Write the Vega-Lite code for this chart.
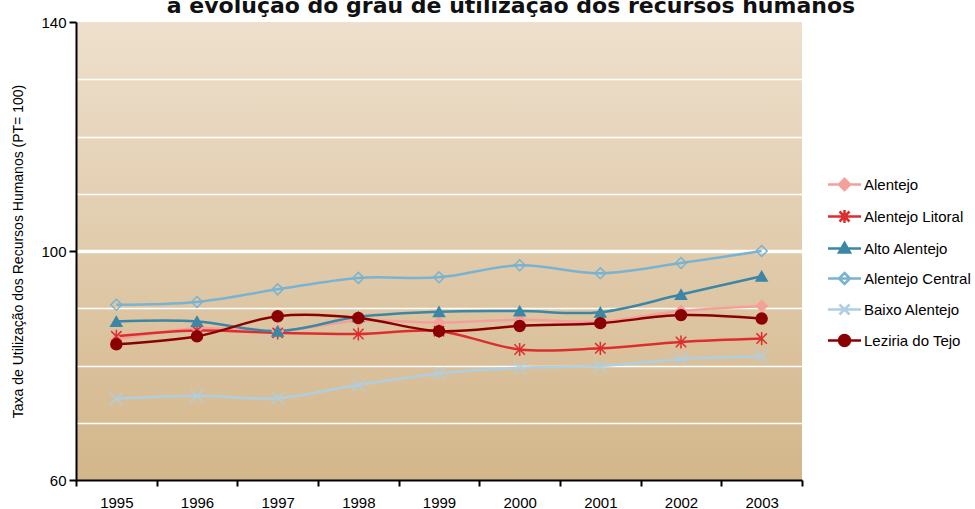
{
  "$schema": "https://vega.github.io/schema/vega-lite/v6.json",
  "width": 726,
  "height": 458,
  "autosize": {"type": "none"},
  "padding": {"left": 76, "top": 22, "right": 173, "bottom": 29},
  "background": "white",
  "view": {
    "fill": {"gradient": "linear", "x1": 0, "y1": 0, "x2": 0, "y2": 1,
      "stops": [{"offset": 0, "color": "#EEE0CD"}, {"offset": 1, "color": "#D3B68A"}]},
    "stroke": null
  },
  "title": {
    "text": "a evolução do grau de utilização dos recursos humanos",
    "font": "DejaVu Sans", "fontSize": 22, "fontWeight": "bold", "color": "#111111",
    "anchor": "middle", "frame": "group", "dx": 72, "dy": 22, "baseline": "alphabetic", "offset": 2
  },
  "data": {"values": [
    {"year": "1995", "region": "Alentejo", "value": 84.5},
    {"year": "1996", "region": "Alentejo", "value": 86.5},
    {"year": "1997", "region": "Alentejo", "value": 86.0},
    {"year": "1998", "region": "Alentejo", "value": 87.8},
    {"year": "1999", "region": "Alentejo", "value": 87.5},
    {"year": "2000", "region": "Alentejo", "value": 88.0},
    {"year": "2001", "region": "Alentejo", "value": 87.7},
    {"year": "2002", "region": "Alentejo", "value": 89.5},
    {"year": "2003", "region": "Alentejo", "value": 90.4},
    {"year": "1995", "region": "Alentejo Litoral", "value": 85.1},
    {"year": "1996", "region": "Alentejo Litoral", "value": 86.1},
    {"year": "1997", "region": "Alentejo Litoral", "value": 85.7},
    {"year": "1998", "region": "Alentejo Litoral", "value": 85.5},
    {"year": "1999", "region": "Alentejo Litoral", "value": 86.0},
    {"year": "2000", "region": "Alentejo Litoral", "value": 82.8},
    {"year": "2001", "region": "Alentejo Litoral", "value": 83.0},
    {"year": "2002", "region": "Alentejo Litoral", "value": 84.1},
    {"year": "2003", "region": "Alentejo Litoral", "value": 84.7},
    {"year": "1995", "region": "Alto Alentejo", "value": 87.7},
    {"year": "1996", "region": "Alto Alentejo", "value": 87.7},
    {"year": "1997", "region": "Alto Alentejo", "value": 86.0},
    {"year": "1998", "region": "Alto Alentejo", "value": 88.5},
    {"year": "1999", "region": "Alto Alentejo", "value": 89.4},
    {"year": "2000", "region": "Alto Alentejo", "value": 89.5},
    {"year": "2001", "region": "Alto Alentejo", "value": 89.3},
    {"year": "2002", "region": "Alto Alentejo", "value": 92.4},
    {"year": "2003", "region": "Alto Alentejo", "value": 95.6},
    {"year": "1995", "region": "Alentejo Central", "value": 90.6},
    {"year": "1996", "region": "Alentejo Central", "value": 91.1},
    {"year": "1997", "region": "Alentejo Central", "value": 93.3},
    {"year": "1998", "region": "Alentejo Central", "value": 95.3},
    {"year": "1999", "region": "Alentejo Central", "value": 95.4},
    {"year": "2000", "region": "Alentejo Central", "value": 97.5},
    {"year": "2001", "region": "Alentejo Central", "value": 96.1},
    {"year": "2002", "region": "Alentejo Central", "value": 97.9},
    {"year": "2003", "region": "Alentejo Central", "value": 100.0},
    {"year": "1995", "region": "Baixo Alentejo", "value": 74.2},
    {"year": "1996", "region": "Baixo Alentejo", "value": 74.7},
    {"year": "1997", "region": "Baixo Alentejo", "value": 74.3},
    {"year": "1998", "region": "Baixo Alentejo", "value": 76.6},
    {"year": "1999", "region": "Baixo Alentejo", "value": 78.6},
    {"year": "2000", "region": "Baixo Alentejo", "value": 79.6},
    {"year": "2001", "region": "Baixo Alentejo", "value": 79.9},
    {"year": "2002", "region": "Baixo Alentejo", "value": 81.1},
    {"year": "2003", "region": "Baixo Alentejo", "value": 81.6},
    {"year": "1995", "region": "Leziria do Tejo", "value": 83.7},
    {"year": "1996", "region": "Leziria do Tejo", "value": 85.1},
    {"year": "1997", "region": "Leziria do Tejo", "value": 88.6},
    {"year": "1998", "region": "Leziria do Tejo", "value": 88.3},
    {"year": "1999", "region": "Leziria do Tejo", "value": 86.0},
    {"year": "2000", "region": "Leziria do Tejo", "value": 86.9},
    {"year": "2001", "region": "Leziria do Tejo", "value": 87.4},
    {"year": "2002", "region": "Leziria do Tejo", "value": 88.8},
    {"year": "2003", "region": "Leziria do Tejo", "value": 88.2}
  ]},
  "encoding": {
    "x": {
      "field": "year", "type": "ordinal",
      "scale": {"type": "band", "paddingInner": 0, "paddingOuter": 0},
      "axis": {
        "title": null, "labelAngle": 0, "tickBand": "extent", "grid": false,
        "tickSize": 6, "labelPadding": 9
      }
    },
    "y": {
      "field": "value", "type": "quantitative",
      "scale": {"domain": [60, 140], "nice": false, "zero": false},
      "axis": {
        "title": "Taxa de Utilização dos Recursos Humanos (PT= 100)",
        "values": [60, 70, 80, 90, 100, 110, 120, 130, 140],
        "labelExpr": "datum.value % 40 == 20 ? datum.label : ''",
        "tickOpacity": {"condition": {"test": "datum.value % 40 == 20", "value": 1}, "value": 0},
        "grid": true,
        "gridColor": "white",
        "gridWidth": {"condition": {"test": "datum.value == 100", "value": 3.5}, "value": 1.3},
        "gridOpacity": {"condition": {"test": "datum.value == 60 || datum.value == 140", "value": 0}, "value": 1},
        "tickSize": 7, "labelPadding": 3, "titlePadding": 15
      }
    }
  },
  "layer": [
    {
      "mark": {"type": "line", "interpolate": "catmull-rom", "strokeWidth": 2.5},
      "encoding": {
        "stroke": {
          "field": "region", "type": "nominal",
          "scale": {
            "domain": ["Alentejo", "Alentejo Litoral", "Alto Alentejo", "Alentejo Central", "Baixo Alentejo", "Leziria do Tejo"],
            "range": ["#F4A09A", "#DC2E2E", "#3C86A6", "#79B3D2", "#AFCFE0", "#8B0000"]
          },
          "legend": {
            "title": null, "orient": "none", "legendX": 761, "legendY": 155,
            "symbolSize": 100, "symbolStrokeWidth": 2.5, "rowPadding": 10,
            "labelFont": "Liberation Sans", "labelFontSize": 15, "labelColor": "#000000", "labelOffset": 12,
            "padding": 0,
            "encode": {
              "symbols": {
                "update": {
                  "shape": {"signal": "{'Alentejo': 'M-3.3,0H3.3M0,-1.1L1.1,0L0,1.1L-1.1,0Z', 'Alentejo Litoral': 'M-3.3,0H3.3M0,-1.3L0,1.3M-1,-1L1,1M-1,1L1,-1', 'Alto Alentejo': 'M-3.3,0H3.3M0,-1.1L1.1,0.8L-1.1,0.8Z', 'Alentejo Central': 'M-3.3,0H3.3M0,-1.1L1.1,0L0,1.1L-1.1,0Z', 'Baixo Alentejo': 'M-3.3,0H3.3M-1,-1L1,1M-1,1L1,-1', 'Leziria do Tejo': 'M-3.3,0H3.3M1.1,0A1.1,1.1,0,1,1,-1.1,0A1.1,1.1,0,1,1,1.1,0Z'}[datum.value]"},
                  "fill": {"signal": "{'Alentejo': '#F4A09A', 'Alentejo Litoral': 'transparent', 'Alto Alentejo': '#3C86A6', 'Alentejo Central': 'white', 'Baixo Alentejo': 'transparent', 'Leziria do Tejo': '#8B0000'}[datum.value]"}
                }
              }
            }
          }
        },
        "detail": {"field": "region"}
      }
    },
    {
      "mark": {"type": "point", "filled": false, "strokeWidth": 1.5, "size": 120, "opacity": 1},
      "encoding": {
        "stroke": {"field": "region", "type": "nominal"},
        "fill": {
          "condition": [
            {"test": "datum.region === 'Alentejo'", "value": "#F4A09A"},
            {"test": "datum.region === 'Alto Alentejo'", "value": "#3C86A6"},
            {"test": "datum.region === 'Leziria do Tejo'", "value": "#8B0000"}
          ],
          "value": "transparent"
        },
        "shape": {
          "condition": [
            {"test": "datum.region === 'Alentejo' || datum.region === 'Alentejo Central'", "value": "diamond"},
            {"test": "datum.region === 'Alentejo Litoral'", "value": "M0,-1.2L0,1.2M-0.95,-0.95L0.95,0.95M-0.95,0.95L0.95,-0.95"},
            {"test": "datum.region === 'Alto Alentejo'", "value": "triangle-up"},
            {"test": "datum.region === 'Baixo Alentejo'", "value": "M-1.15,-1.15L1.15,1.15M-1.15,1.15L1.15,-1.15"}
          ],
          "value": "circle"
        }
      }
    }
  ],
  "config": {
    "axis": {
      "domainColor": "#000000", "domainWidth": 2,
      "tickColor": "#000000", "tickWidth": 2,
      "labelFont": "Liberation Sans", "labelFontSize": 15, "labelColor": "#000000",
      "titleFont": "Liberation Sans", "titleFontSize": 14, "titleFontWeight": "normal", "titleColor": "#000000"
    }
  }
}
